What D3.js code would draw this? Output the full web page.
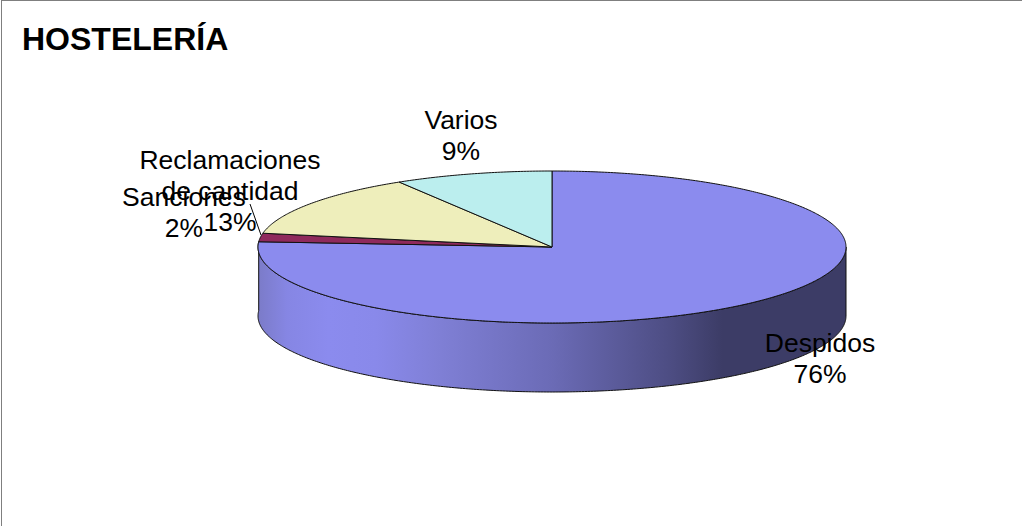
<!DOCTYPE html>
<html><head><meta charset="utf-8">
<script src="https://cdnjs.cloudflare.com/ajax/libs/d3/7.8.5/d3.min.js"></script>
<style>html,body{margin:0;padding:0;background:#fff}svg{display:block}text{font-family:"Liberation Sans",Arial,sans-serif;fill:#000}</style>
</head><body><div id="c"></div>
<script>
const categories=["Despidos","Sanciones","Reclamaciones de cantidad","Varios"];
const values=[76.1,1.8,13.4,8.7];
const colors=["#8b8bee","#8f2a5c","#eeeebb","#bbeeee"];
const titleText="HOSTELERÍA";
const labelLines=[["Despidos"],["Sanciones"],["Reclamaciones","de cantidad"],["Varios"]];
const labelAnchors=[[820,343],[184,197],[230,160],[461,120]];

const W=1022,H=526,cx=552,cy=247,rx=294,ry=76,depth=69;
const svg=d3.select("#c").append("svg").attr("width",W).attr("height",H);
const defs=svg.append("defs");
const g=defs.append("linearGradient").attr("id","side").attr("gradientUnits","userSpaceOnUse")
 .attr("x1",cx-rx).attr("x2",cx+rx).attr("y1",0).attr("y2",0);
[[0,"#7b7bc8"],[0.05,"#8686e4"],[0.12,"#8b8bee"],[0.2,"#8989ea"],[0.31,"#7f7fd5"],[0.5,"#6b6bb6"],[0.7,"#4d4d83"],[0.79,"#3c3c66"],[1,"#3c3c66"]]
 .forEach(d=>g.append("stop").attr("offset",d[0]).attr("stop-color",d[1]));

svg.append("rect").attr("x",1.5).attr("y",0.5).attr("width",W+4).attr("height",H+4).attr("fill","#fff").attr("stroke","#7f7f7f").attr("stroke-width",1);

const pie=d3.pie().sort(null).value(d=>d)(values);
const px=d3.scaleLinear().domain([-1,1]).range([cx-rx,cx+rx]);
const py=d3.scaleLinear().domain([-1,1]).range([cy-ry,cy+ry]);
const pt=a=>[px(Math.sin(a)),py(-Math.cos(a))];

const a0=Math.PI/2, a1=pie[0].endAngle;
const rim=d3.range(a0,a1,0.01).concat([a1]).map(pt);
const wall=rim.concat(rim.slice().reverse().map(p=>[p[0],p[1]+depth]));
svg.append("path").attr("d",d3.line()(wall)+"Z").attr("fill","url(#side)").attr("stroke","#111").attr("stroke-width",1).attr("stroke-linejoin","round");

pie.forEach((s,i)=>{
  const pts=d3.range(s.startAngle,s.endAngle,0.01).concat([s.endAngle]).map(pt);
  svg.append("path").attr("d",d3.line()([[cx,cy],...pts])+"Z")
    .attr("fill",colors[i]).attr("stroke","#111").attr("stroke-width",1).attr("stroke-linejoin","round");
});

svg.append("line").attr("x1",250).attr("y1",204).attr("x2",261).attr("y2",235).attr("stroke","#000").attr("stroke-width",1);

svg.append("text").attr("x",22).attr("y",50).attr("font-size",32).attr("font-weight","bold").text(titleText);

labelLines.forEach((lines,i)=>{
  const t=svg.append("text").attr("text-anchor","middle").attr("font-size",26.5);
  const all=lines.concat([d3.format(".0f")(values[i])+"%"]);
  all.forEach((l,j)=>t.append("tspan").attr("x",labelAnchors[i][0]).attr("y",labelAnchors[i][1]+j*31+9).text(l));
});
</script></body></html>
